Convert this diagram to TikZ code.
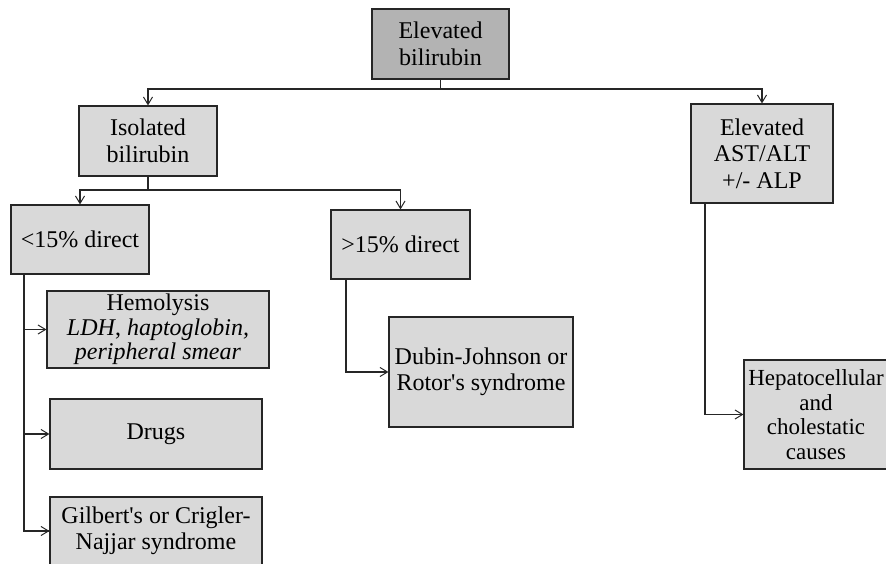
\documentclass[tikz,border=0pt]{standalone}
\usepackage{fontspec}
\setmainfont{Liberation Serif}[Ligatures=TeXOff]
\usetikzlibrary{arrows.meta}
\definecolor{boxfill}{HTML}{D9D9D9}
\definecolor{topfill}{HTML}{B3B3B3}
\definecolor{edge}{HTML}{262626}
\tikzset{
  box/.style={draw=edge, fill=boxfill, line width=1.1pt, align=center, inner sep=0pt,
    font=\fontsize{24}{26.5}\selectfont},
  topbox/.style={box, fill=topfill},
  conn/.style={draw=edge, line width=1.1pt},
  arr/.style={conn, -{Straight Barb[length=7.5pt,width=9pt,line width=1pt]}}
}
\begin{document}
\begin{tikzpicture}[x=1pt,y=-1pt]
\useasboundingbox (0,0) rectangle (886,564);
\node[topbox, minimum width=137pt, minimum height=70pt] (top) at (440.5,44) {Elevated\\bilirubin};
\node[box, minimum width=138pt, minimum height=70pt] (iso) at (148,141) {Isolated\\bilirubin};
\node[box, minimum width=142pt, minimum height=99pt] (ast) at (762,153.5) {Elevated\\AST/ALT\\+/- ALP};
\node[box, minimum width=138pt, minimum height=69pt] (lt) at (80,239.5) {<15\% direct};
\node[box, minimum width=139pt, minimum height=69pt] (gt) at (400.5,244.5) {>15\% direct};
\node[box, minimum width=222pt, minimum height=77pt, font=\fontsize{24}{24.5}\selectfont] (hemo) at (158,329.5) {Hemolysis\\\textit{LDH}, \textit{haptoglobin,}\\\textit{peripheral smear}};
\node[box, minimum width=212pt, minimum height=70pt] (drugs) at (156,434) {Drugs};
\node[box, minimum width=212pt, minimum height=68pt] (gil) at (156,531) {Gilbert's or Crigler-\\Najjar syndrome};
\node[box, minimum width=184pt, minimum height=110pt] (dub) at (481,372) {Dubin-Johnson or\\Rotor's syndrome};
\node[box, minimum width=144pt, minimum height=109pt, font=\fontsize{23}{24.5}\selectfont] (hep) at (816,414.5) {Hepatocellular\\and\\cholestatic\\causes};
% connectors
\coordinate (j1) at (440.5,89);
\draw[conn] (top.south) -- (j1);
\draw[arr] (j1) -| (iso.north);
\draw[arr] (j1) -| (ast.north);
\coordinate (j2) at (148,190);
\draw[conn] (iso.south) -- (j2);
\draw[arr] (j2) -| (lt.north);
\draw[arr] (j2) -| (gt.north);
\coordinate (lv) at (24,274);
\draw[conn] (lv) |- (gil.west);
\draw[arr] (lv |- hemo.west) -- (hemo.west);
\draw[arr] (lv |- drugs.west) -- (drugs.west);
\draw[arr] (lv |- gil.west) -- (gil.west);
\coordinate (gv) at (346,279);
\draw[arr] (gv) |- (dub.west);
\coordinate (av) at (705,203);
\draw[arr] (av) |- (hep.west);
\end{tikzpicture}
\end{document}
